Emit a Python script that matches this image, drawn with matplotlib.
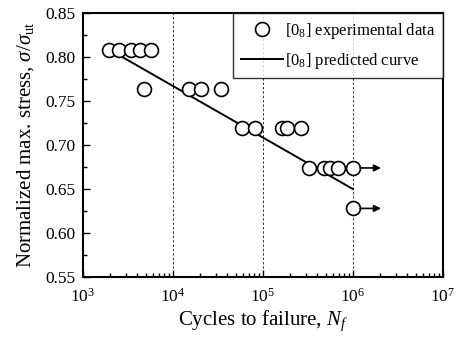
import matplotlib
matplotlib.use("Agg")
import matplotlib.pyplot as plt
import numpy as np

plt.rcParams['font.family'] = ['Liberation Serif', 'DejaVu Serif']
plt.rcParams['mathtext.fontset'] = 'custom'
plt.rcParams['mathtext.rm'] = 'Liberation Serif'
plt.rcParams['mathtext.it'] = 'Liberation Serif:italic'

# experimental data
cycles = [1.94e3, 2.51e3, 3.41e3, 4.3e3, 5.7e3, 4.76e3,
          1.5e4, 2.05e4, 3.4e4,
          5.84e4, 8.15e4, 1.63e5, 1.85e5, 2.64e5,
          3.24e5, 4.76e5, 5.55e5, 6.8e5, 1.0e6,
          1.0e6]
stress = [0.808, 0.808, 0.808, 0.808, 0.808, 0.764,
          0.764, 0.764, 0.764,
          0.719, 0.719, 0.719, 0.719, 0.719,
          0.674, 0.674, 0.674, 0.674, 0.674,
          0.628]
# run-outs (arrows)
runout_cycles = [1.0e6, 1.0e6]
runout_stress = [0.674, 0.628]
# predicted curve
pred_cycles = [2.45e3, 1.0e6]
pred_stress = [0.803, 0.650]

grid_x = [1e4, 1e5, 1e6]
yticks = [0.55, 0.60, 0.65, 0.70, 0.75, 0.80, 0.85]

fig = plt.figure(figsize=(4.6, 3.45), dpi=100)
ax = fig.add_axes([0.180, 0.197, 0.783, 0.765])

for gx in grid_x:
    ax.axvline(gx, color='#333333', lw=0.7, ls=(0, (2.5, 2)), zorder=1)

ax.plot(pred_cycles, pred_stress, color='black', lw=1.4, zorder=2,
        label=r'[0$_8$] predicted curve')
ax.plot(cycles, stress, ls='none', marker='o', ms=10, mfc='white',
        mec='black', mew=1.2, zorder=3,
        label=r'[0$_8$] experimental data')

for rc, rs in zip(runout_cycles, runout_stress):
    ax.annotate('', xy=(rc * 2.05, rs), xytext=(rc * 1.2, rs),
                arrowprops=dict(arrowstyle='-|>', color='black', lw=1.2,
                                mutation_scale=10, shrinkA=0, shrinkB=0),
                zorder=4)

ax.set_xscale('log')
ax.set_xlim(1e3, 1e7)
ax.set_ylim(0.55, 0.85)
ax.set_yticks(yticks)
ax.set_yticklabels([f'{v:.2f}' for v in yticks])
ax.yaxis.set_minor_locator(matplotlib.ticker.MultipleLocator(0.025))
ax.xaxis.set_minor_locator(matplotlib.ticker.LogLocator(base=10, subs=np.arange(2, 10)))
ax.xaxis.set_minor_formatter(matplotlib.ticker.NullFormatter())

ax.tick_params(which='both', direction='in', top=False, right=False,
               labelsize=12.5, width=1.0)
ax.tick_params(which='major', length=5)
ax.tick_params(which='minor', length=3)
ax.tick_params(axis='x', pad=8)
ax.tick_params(axis='y', pad=5)
for s in ax.spines.values():
    s.set_linewidth(1.5)

ax.set_xlabel(r'Cycles to failure, $N_f$', fontsize=15, labelpad=2)
ax.set_ylabel(r'Normalized max. stress, $\sigma$/$\sigma_{\mathrm{ut}}$', fontsize=15, labelpad=7)

handles, labels = ax.get_legend_handles_labels()
leg = ax.legend(handles[::-1], labels[::-1], loc='upper right', fontsize=12,
                frameon=True, fancybox=False, edgecolor='black',
                borderaxespad=0.0, handlelength=2.5, handletextpad=0.15,
                borderpad=0.45, labelspacing=0.6)
leg.get_frame().set_linewidth(1.0)

fig.savefig('out.png', dpi=100)
